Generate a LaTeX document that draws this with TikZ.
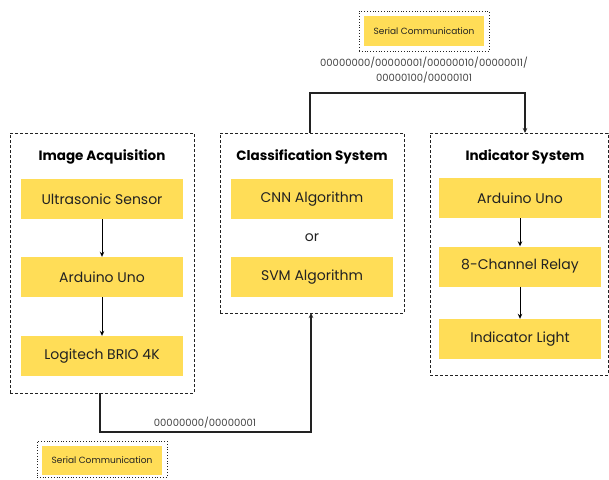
\documentclass[tikz,border=0pt]{standalone}
\usepackage{fontspec}
\setmainfont{Poppins}
\usetikzlibrary{arrows.meta, positioning}
\definecolor{boxyellow}{RGB}{255, 221, 87}
\definecolor{inkdark}{RGB}{34, 34, 34}

\tikzset{
  groupbox/.style={draw=inkdark, thick, dash pattern=on 3pt off 2pt, minimum width=184pt, inner sep=0pt},
  yellowbox/.style={fill=boxyellow, minimum width=162pt, minimum height=40pt, inner sep=0pt, font=\fontsize{14}{16}\selectfont, text=inkdark},
  grouptitle/.style={font=\fontsize{13.5}{16}\selectfont\bfseries, text=black},
  serialbox/.style={draw=inkdark, thick, dotted, minimum width=130pt, minimum height=40pt, inner sep=0pt},
  seriallabel/.style={fill=boxyellow, minimum width=120pt, minimum height=30pt, inner sep=0pt, font=\fontsize{9}{11}\selectfont, text=inkdark},
  bits/.style={font=\fontsize{10}{14.5}\selectfont, text=inkdark!85, align=center},
  flow/.style={-{Stealth[length=5pt, width=4.5pt]}, line width=1pt, draw=black},
  link/.style={-{Stealth[length=5pt, width=4.5pt]}, line width=1.6pt, draw=inkdark},
}

\begin{document}
\begin{tikzpicture}[x=1pt, y=-1pt]
\useasboundingbox (0,0) rectangle (609,479);

% ============================================================
% Image Acquisition
% ============================================================
\node[groupbox, minimum height=260pt] (acqbox) at (102,263) {};
\node[grouptitle] (acqtitle) at (102,157) {Image Acquisition};
\node[yellowbox] (ultra) at (102,199) {Ultrasonic Sensor};
\node[yellowbox] (arduinoA) at (102,277) {Arduino Uno};
\node[yellowbox] (camera) at (102,356) {Logitech BRIO 4K};
\draw[flow] (ultra) -- (arduinoA);
\draw[flow] (arduinoA) -- (camera);

% ============================================================
% Classification System
% ============================================================
\node[groupbox, minimum height=180pt] (clsbox) at (312,223) {};
\node[grouptitle] (clstitle) at (312,157) {Classification System};
\node[yellowbox] (cnn) at (312,199) {CNN Algorithm};
\node[font=\fontsize{14}{16}\selectfont, text=inkdark] (ortext) at (312,238) {or};
\node[yellowbox] (svm) at (312,277) {SVM Algorithm};

% ============================================================
% Indicator System
% ============================================================
\node[groupbox, minimum height=242pt, minimum width=178pt] (indbox) at (519,254) {};
\node[grouptitle] (indtitle) at (525,157) {Indicator System};
\node[yellowbox] (arduinoB) at (520,198) {Arduino Uno};
\node[yellowbox] (relay) at (520,266.5) {8-Channel Relay};
\node[yellowbox] (light) at (520,339) {Indicator Light};
\draw[flow] (arduinoB) -- (relay);
\draw[flow] (relay) -- (light);

% ============================================================
% serial links
% ============================================================
\coordinate (indin) at (525,133);
\coordinate (topbend) at (310,93);
\draw[link] (clsbox.north -| topbend) |- (topbend -| indin) -- (indin);
\node[bits] (topbits) at (424,70) {00000000/00000001/00000010/00000011/\\00000100/00000101};
\node[serialbox] (topserial) at (424,31) {};
\node[seriallabel] (toplabel) at (424,31) {Serial Communication};

\coordinate (lowbend) at (100,432);
\draw[link] (acqbox.south -| lowbend) |- (lowbend -| 311,0) -- (311,313);
\node[bits] (lowbits) at (205,423) {00000000/00000001};
\node[serialbox, minimum height=36pt] (lowserial) at (102,459) {};
\node[seriallabel, minimum height=29pt] (lowlabel) at (102,460.5) {Serial Communication};

\end{tikzpicture}
\end{document}
